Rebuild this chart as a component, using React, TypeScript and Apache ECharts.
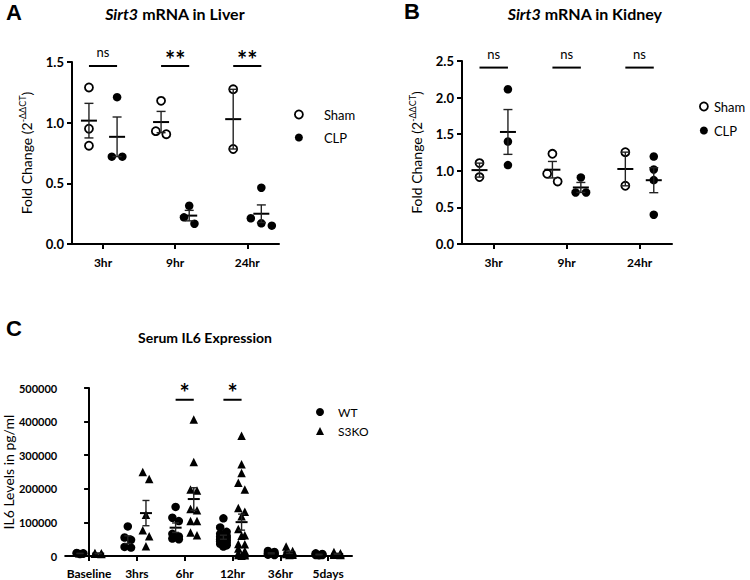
import React, { useEffect, useRef } from 'react';
import * as echarts from 'echarts';

// ---------- data ----------
const timeLabelsAB = ['3hr', '9hr', '24hr'];
const liverSham = [[1.29, 0.95, 0.81], [1.18, 0.93, 0.905], [1.275, 0.783]];
const liverClp = [[1.21, 0.72, 0.72], [0.315, 0.22, 0.167], [0.464, 0.212, 0.171, 0.151]];
const liverSig = ['ns', '**', '**'];
const kidneySham = [[1.105, 0.914], [1.232, 0.959, 0.854], [1.255, 0.795]];
const kidneyClp = [[2.114, 1.4, 1.078], [0.909, 0.704, 0.704], [1.195, 1.018, 0.873, 0.4]];
const kidneySig = ['ns', 'ns', 'ns'];

const timeLabelsC = ['Baseline', '3hrs', '6hr', '12hr', '36hr', '5days'];
const serumWT = [
  [9000, 8000, 8000, 7000, 6000],
  [88000, 55000, 48000, 27000, 25000],
  [146000, 114000, 104000, 66000, 58000, 52000, 50000],
  [112000, 85000, 72000, 66000, 60000, 57000, 54000, 50000, 47000, 44000, 40000, 36000, 32000, 28000],
  [15000, 12000, 10000, 8000, 6000, 5000, 4000, 3000],
  [8000, 6000, 5000, 4000, 3000, 3000, 2000],
];
const serumKO = [
  [9000, 8000, 7000, 6000],
  [250000, 229000, 123000, 76500, 58600, 28900],
  [406000, 280000, 198000, 195000, 140000, 136000, 104000, 104000, 70000, 62000],
  [358000, 273000, 247000, 218000, 198000, 143000, 132000, 118000, 80000, 62000, 60000, 36000, 35000, 22000, 15000, 8000, 5000, 3000, 2000, 1000],
  [28000, 15000, 12000, 8000, 6000, 4000, 3000],
  [12000, 8000, 6000, 5000, 4000, 3000],
];
const serumSig = ['', '', '*', '*', '', ''];

// ---------- helpers ----------
const FONT = 'Lato, "Open Sans", sans-serif';
const ARIAL = '"Liberation Sans", Arial, sans-serif';

function meanSem(v: number[]) {
  const n = v.length;
  const m = v.reduce((a, b) => a + b, 0) / n;
  if (n < 2) return [m, 0];
  const sd = Math.sqrt(v.reduce((a, b) => a + (b - m) * (b - m), 0) / (n - 1));
  return [m, sd / Math.sqrt(n)];
}

// simple beeswarm: near-equal values are spread side by side
function swarm(vals: number[], cx: number, pxX: number, pxY: number, d: number, maxRow: number, spacing: number) {
  const sorted = [...vals].sort((a, b) => b - a);
  const rows: number[][] = [];
  let cur: number[] = [];
  for (const v of sorted) {
    if (cur.length && Math.abs(cur[0] - v) * pxY < d && cur.length < maxRow) cur.push(v);
    else {
      if (cur.length) rows.push(cur);
      cur = [v];
    }
  }
  if (cur.length) rows.push(cur);
  const out: number[][] = [];
  rows.forEach((r) => r.forEach((v, i) => out.push([cx + ((i - (r.length - 1) / 2) * spacing) / pxX, v])));
  return out;
}

function groupPoints(groups: number[][], base: number, off: number, pxX: number, pxY: number, d: number, maxRow: number, spacing: number) {
  const pts: number[][] = [];
  groups.forEach((vals, i) => pts.push(...swarm(vals, base + i + off, pxX, pxY, d, maxRow, spacing)));
  return pts;
}

function groupErr(groups: number[][], base: number, off: number) {
  return groups.map((vals, i) => {
    const [m, s] = meanSem(vals);
    return [base + i + off, m, s];
  });
}

const errRender = (hw: number, chw: number) => (params: any, api: any) => {
  const x = api.value(0);
  const m = api.value(1);
  const s = api.value(2);
  const pm = api.coord([x, m]);
  const children: any[] = [
    { type: 'line', shape: { x1: pm[0] - hw, y1: pm[1], x2: pm[0] + hw, y2: pm[1] }, style: { stroke: '#000', lineWidth: 2 } },
  ];
  if (s > 0) {
    const pt = api.coord([x, m + s]);
    const pb = api.coord([x, m - s]);
    const st = { stroke: '#222', lineWidth: 1.4 };
    children.push(
      { type: 'line', shape: { x1: pm[0], y1: pt[1], x2: pm[0], y2: pb[1] }, style: st },
      { type: 'line', shape: { x1: pm[0] - chw, y1: pt[1], x2: pm[0] + chw, y2: pt[1] }, style: st },
      { type: 'line', shape: { x1: pm[0] - chw, y1: pb[1], x2: pm[0] + chw, y2: pb[1] }, style: st }
    );
  }
  return { type: 'group', children };
};

const sigRender = (labels: string[]) => (params: any, api: any) => {
  const label = labels[params.dataIndex];
  if (!label) return null;
  const y = api.value(2);
  const p1 = api.coord([api.value(0), y]);
  const p2 = api.coord([api.value(1), y]);
  const star = label.indexOf('*') >= 0;
  return {
    type: 'group',
    children: [
      { type: 'line', shape: { x1: p1[0], y1: p1[1], x2: p2[0], y2: p2[1] }, style: { stroke: '#000', lineWidth: 2 } },
      {
        type: 'text',
        x: (p1[0] + p2[0]) / 2,
        y: p1[1] - (star ? 7 : 14),
        style: {
          text: label,
          textAlign: 'center',
          textVerticalAlign: 'middle',
          font: star ? `bold 24px ${FONT}` : `13px ${FONT}`,
          fill: '#000',
        },
      },
    ],
  };
};

function sigData(labels: string[], base: number, off: number, y: number) {
  return labels.map((l, i) => [base + i - off, base + i + off, y]);
}

// ---------- layout ----------
const gA = { left: 72, top: 62, width: 207, height: 182 };
const gB = { left: 462, top: 61, width: 210, height: 183 };
const gC = { left: 64, top: 388, width: 288, height: 168 };
const xrA = [0.57, 3.44];
const xrB = [0.565, 3.445];
const xrC = [-0.5, 5.5];
const offAB = 0.195;
const offC = 0.19;

const openCircle = { color: '#fff', borderColor: '#000', borderWidth: 1.8, opacity: 1 };
const filled = { color: '#000', opacity: 1 };

function xAxisCfg(grid: number, range: number[], vals: number[], labels: string[], base: number, fs: number, margin: number) {
  return {
    type: 'value',
    gridIndex: grid,
    min: range[0],
    max: range[1],
    splitLine: { show: false },
    axisLine: { lineStyle: { color: '#000', width: 2 } },
    axisTick: { customValues: vals, length: 5, lineStyle: { color: '#000', width: 2 } },
    axisLabel: {
      customValues: vals,
      formatter: (v: number) => labels[Math.round(v) - base],
      color: '#000',
      fontWeight: 'bold',
      fontSize: fs,
      fontFamily: FONT,
      margin,
    },
  };
}

function yAxisCfg(grid: number, max: number, interval: number, name: string, nameGap: number, fs: number, fmt: (v: number) => string, rich?: any) {
  return {
    type: 'value',
    gridIndex: grid,
    min: 0,
    max,
    interval,
    name,
    nameLocation: 'middle',
    nameGap,
    nameTextStyle: { fontSize: 14, fontFamily: FONT, color: '#000', rich },
    splitLine: { show: false },
    axisLine: { show: true, lineStyle: { color: '#000', width: 2 } },
    axisTick: { show: true, length: 5, lineStyle: { color: '#000', width: 2 } },
    axisLabel: { formatter: fmt, color: '#000', fontWeight: 'bold', fontSize: fs, fontFamily: FONT, margin: 8 },
  };
}

export default function App() {
  const ref = useRef<HTMLDivElement>(null);
  useEffect(() => {
    if (!ref.current) return;
    const chart = echarts.init(ref.current, null, { renderer: 'svg' });

    const pxXA = gA.width / (xrA[1] - xrA[0]);
    const pxYA = gA.height / 1.5;
    const pxXB = gB.width / (xrB[1] - xrB[0]);
    const pxYB = gB.height / 2.5;
    const pxXC = gC.width / (xrC[1] - xrC[0]);
    const pxYC = gC.height / 500000;

    const supRich = {
      sup: { fontSize: 9, fontFamily: FONT, color: '#000', verticalAlign: 'top', lineHeight: 16 },
    };
    const foldName = 'Fold Change (2{sup|-ΔΔCT})';

    const scatter = (name: string, xi: number, data: number[][], symbol: string, size: number, style: any) => ({
      type: 'scatter',
      name,
      xAxisIndex: xi,
      yAxisIndex: xi,
      symbol,
      symbolSize: size,
      itemStyle: style,
      data,
      z: 3,
      silent: true,
    });

    const legendCfg = (left: number, top: number, gap: number, pad: number, fs: number, items: any[]) => ({
      left,
      top,
      padding: 0,
      orient: 'vertical',
      itemWidth: 8,
      itemHeight: 8,
      itemGap: gap,
      selectedMode: false,
      textStyle: { fontSize: fs, fontFamily: FONT, color: '#000', padding: [0, 0, 0, pad] },
      data: items,
    });

    const option: any = {
      animation: false,
      textStyle: { fontFamily: FONT },
      grid: [
        { ...gA, containLabel: false },
        { ...gB, containLabel: false },
        { ...gC, containLabel: false },
      ],
      xAxis: [
        xAxisCfg(0, xrA, [1, 2, 3], timeLabelsAB, 1, 12, 12),
        xAxisCfg(1, xrB, [1, 2, 3], timeLabelsAB, 1, 12, 12),
        xAxisCfg(2, xrC, [0, 1, 2, 3, 4, 5], timeLabelsC, 0, 12, 11),
      ],
      yAxis: [
        yAxisCfg(0, 1.5, 0.5, foldName, 38, 13, (v) => v.toFixed(1), supRich),
        yAxisCfg(1, 2.5, 0.5, foldName, 38, 13, (v) => v.toFixed(1), supRich),
        yAxisCfg(2, 500000, 100000, 'IL6 Levels in pg/ml', 46, 11, (v) => String(v)),
      ],
      legend: [
        legendCfg(294, 108, 10, 16, 13, [
          { name: 'Sham', icon: 'circle', itemStyle: openCircle },
          { name: 'CLP', icon: 'circle', itemStyle: filled },
        ]),
        legendCfg(699, 100, 11, 1, 13, [
          { name: 'Sham', icon: 'circle', itemStyle: openCircle },
          { name: 'CLP', icon: 'circle', itemStyle: filled },
        ]),
        legendCfg(316, 406, 7, 9, 12, [
          { name: 'WT', icon: 'circle', itemStyle: filled },
          { name: 'S3KO', icon: 'triangle', itemStyle: filled },
        ]),
      ],
      graphic: [
        { type: 'text', x: 6, y: 12, style: { text: 'A', font: `bold 22px ${ARIAL}`, fill: '#000', textVerticalAlign: 'middle' } },
        { type: 'text', x: 404, y: 11, style: { text: 'B', font: `bold 22px ${ARIAL}`, fill: '#000', textVerticalAlign: 'middle' } },
        { type: 'text', x: 6, y: 328, style: { text: 'C', font: `bold 22px ${ARIAL}`, fill: '#000', textVerticalAlign: 'middle' } },
        {
          type: 'text', x: 175, y: 13,
          style: {
            text: '{i|Sirt3} mRNA in Liver', textAlign: 'center', textVerticalAlign: 'middle',
            font: `bold 16px ${FONT}`, fill: '#000',
            rich: { i: { fontStyle: 'italic', fontWeight: 'bold', fontSize: 16, fontFamily: FONT } },
          },
        },
        {
          type: 'text', x: 585, y: 13,
          style: {
            text: '{i|Sirt3} mRNA in Kidney', textAlign: 'center', textVerticalAlign: 'middle',
            font: `bold 16px ${FONT}`, fill: '#000',
            rich: { i: { fontStyle: 'italic', fontWeight: 'bold', fontSize: 16, fontFamily: FONT } },
          },
        },
        {
          type: 'text', x: 205, y: 337,
          style: { text: 'Serum IL6 Expression', textAlign: 'center', textVerticalAlign: 'middle', font: `bold 14px ${FONT}`, fill: '#000' },
        },
      ],
      series: [
        scatter('Sham', 0, groupPoints(liverSham, 1, -offAB, pxXA, pxYA, 9, 3, 10.5), 'circle', 8, openCircle),
        scatter('CLP', 0, groupPoints(liverClp, 1, offAB, pxXA, pxYA, 9, 3, 10.5), 'circle', 8.5, filled),
        scatter('Sham', 1, groupPoints(kidneySham, 1, -offAB, pxXB, pxYB, 9, 3, 10.5), 'circle', 8, openCircle),
        scatter('CLP', 1, groupPoints(kidneyClp, 1, offAB, pxXB, pxYB, 9, 3, 10.5), 'circle', 8.5, filled),
        scatter('WT', 2, groupPoints(serumWT, 0, -offC, pxXC, pxYC, 8, 2, 6.5), 'circle', 8.5, filled),
        scatter('S3KO', 2, groupPoints(serumKO, 0, offC, pxXC, pxYC, 8, 2, 6.5), 'triangle', 8.5, filled),
        { type: 'custom', xAxisIndex: 0, yAxisIndex: 0, renderItem: errRender(8, 4.5), data: [...groupErr(liverSham, 1, -offAB), ...groupErr(liverClp, 1, offAB)], z: 5, silent: true },
        { type: 'custom', xAxisIndex: 1, yAxisIndex: 1, renderItem: errRender(8, 4.5), data: [...groupErr(kidneySham, 1, -offAB), ...groupErr(kidneyClp, 1, offAB)], z: 5, silent: true },
        { type: 'custom', xAxisIndex: 2, yAxisIndex: 2, renderItem: errRender(6, 3.5), data: [...groupErr(serumWT, 0, -offC), ...groupErr(serumKO, 0, offC)], z: 5, silent: true },
        { type: 'custom', xAxisIndex: 0, yAxisIndex: 0, renderItem: sigRender(liverSig), data: sigData(liverSig, 1, offAB, 1.467), z: 5, silent: true },
        { type: 'custom', xAxisIndex: 1, yAxisIndex: 1, renderItem: sigRender(kidneySig), data: sigData(kidneySig, 1, offAB, 2.41), z: 5, silent: true },
        { type: 'custom', xAxisIndex: 2, yAxisIndex: 2, renderItem: sigRender(serumSig), data: sigData(serumSig, 0, offC, 465000), z: 5, silent: true },
      ],
    };
    chart.setOption(option);
    return () => chart.dispose();
  }, []);
  return <div ref={ref} style={{ width: 750, height: 580, position: 'fixed', left: 0, top: 0, background: '#fff' }} />;
}
